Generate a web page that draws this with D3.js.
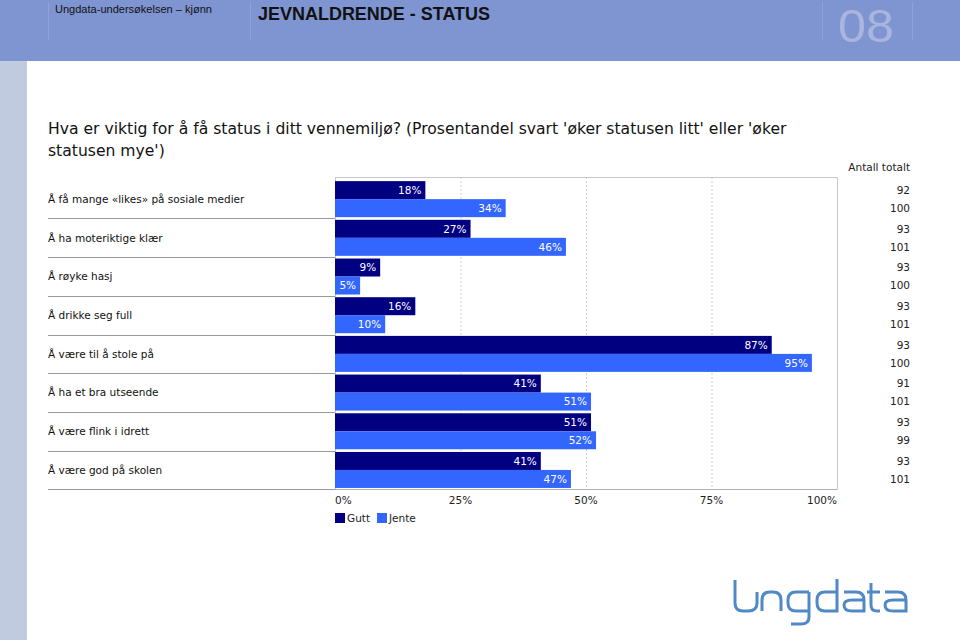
<!DOCTYPE html>
<html><head><meta charset="utf-8">
<script src="https://cdn.jsdelivr.net/npm/d3@7"></script>
<style>
html,body{margin:0;padding:0;background:#fff;}
svg{display:block;}
</style></head>
<body>
<svg id="c" width="960" height="640"></svg>
<script>
const categories = ["Å få mange «likes» på sosiale medier","Å ha moteriktige klær","Å røyke hasj","Å drikke seg full","Å være til å stole på","Å ha et bra utseende","Å være flink i idrett","Å være god på skolen"];
const gutt = [18,27,9,16,87,41,51,41];
const jente = [34,46,5,10,95,51,52,47];
const nGutt = [92,93,93,93,93,91,93,93];
const nJente = [100,101,100,101,100,101,99,101];
const seriesNames = ["Gutt","Jente"];
const ticks = [0,25,50,75,100];

const colors = {Gutt:"#000080", Jente:"#3366ff"};
const svg = d3.select("#c");
const FONT = "DejaVu Sans, Verdana, sans-serif";

// header
svg.append("rect").attr("x",0).attr("y",0).attr("width",960).attr("height",61).attr("fill","#7f95d1");
svg.append("rect").attr("x",0).attr("y",61).attr("width",27).attr("height",579).attr("fill","#c1cbe0");
[48,250,822,912].forEach(x=>svg.append("line").attr("x1",x+0.5).attr("x2",x+0.5).attr("y1",2).attr("y2",40).attr("stroke","#8ea2d8").attr("stroke-width",1));
svg.append("text").attr("x",55).attr("y",13).attr("font-family","Liberation Sans, Arial, sans-serif").attr("font-size",11.5)
  .attr("textLength",157).attr("lengthAdjust","spacingAndGlyphs").attr("fill","#111").text("Ungdata-undersøkelsen – kjønn");
svg.append("text").attr("x",258).attr("y",20).attr("font-family","Liberation Sans, Arial, sans-serif").attr("font-size",18).attr("font-weight","bold")
  .attr("textLength",232).attr("lengthAdjust","spacingAndGlyphs").attr("fill","#111").text("JEVNALDRENDE - STATUS");
svg.append("text").attr("x",838).attr("y",42).attr("font-family","Liberation Sans, Arial, sans-serif").attr("font-size",46)
  .attr("textLength",56).attr("lengthAdjust","spacingAndGlyphs").attr("fill","#a9b5dd").text("08");

// title
const title = svg.append("text").attr("font-family",FONT).attr("font-size",15.6).attr("fill","#111");
title.append("tspan").attr("x",48).attr("y",134).text("Hva er viktig for å få status i ditt vennemiljø? (Prosentandel svart 'øker statusen litt' eller 'øker");
title.append("tspan").attr("x",48).attr("y",156).text("statusen mye')");

// chart
const x = d3.scaleLinear().domain([0,100]).range([335,837]);
const y = d3.scaleBand().domain(categories).range([179.8,489.3]).paddingInner(0).paddingOuter(0);
const sub = d3.scaleBand().domain(seriesNames).range([0,y.bandwidth()]).paddingOuter(0.075).paddingInner(0);

const g = svg.append("g");
// gridlines
g.selectAll("line.grid").data([25,50,75]).join("line").attr("class","grid")
  .attr("x1",d=>x(d)+0.5).attr("x2",d=>x(d)+0.5).attr("y1",177).attr("y2",489)
  .attr("stroke","#cfcfcf").attr("stroke-dasharray","2,2");
// frame
g.append("line").attr("x1",335).attr("x2",837.5).attr("y1",177.5).attr("y2",177.5).attr("stroke","#c8c8c8");
g.append("line").attr("x1",837.5).attr("x2",837.5).attr("y1",177).attr("y2",489).attr("stroke","#c8c8c8");
g.append("line").attr("x1",335.5).attr("x2",335.5).attr("y1",177).attr("y2",489).attr("stroke","#c8c8c8");
// row separators
g.selectAll("line.sep").data(categories).join("line").attr("class","sep")
  .attr("x1",48).attr("x2",335).attr("y1",d=>Math.round(y(d)+y.bandwidth())+0.5).attr("y2",d=>Math.round(y(d)+y.bandwidth())+0.5)
  .attr("stroke","#999");
g.append("line").attr("x1",335).attr("x2",837.5).attr("y1",489.5).attr("y2",489.5).attr("stroke","#b0b0b0");

// labels
g.selectAll("text.cat").data(categories).join("text").attr("class","cat")
  .attr("x",48).attr("y",d=>y(d)+y.bandwidth()/2).attr("dy","0.35em")
  .attr("font-family",FONT).attr("font-size",10.5).attr("fill","#111").text(d=>d);

// bars
const rows = categories.map((c,i)=>({c, vals:[{s:"Gutt",v:gutt[i],n:nGutt[i]},{s:"Jente",v:jente[i],n:nJente[i]}]}));
const rg = g.selectAll("g.row").data(rows).join("g").attr("class","row").attr("transform",d=>`translate(0,${y(d.c)})`);
rg.selectAll("rect").data(d=>d.vals).join("rect")
  .attr("x",x(0)).attr("y",d=>sub(d.s)).attr("width",d=>x(d.v)-x(0)).attr("height",sub.bandwidth())
  .attr("fill",d=>colors[d.s]);
rg.selectAll("text.val").data(d=>d.vals).join("text").attr("class","val")
  .attr("x",d=>x(d.v)-4).attr("y",d=>sub(d.s)+sub.bandwidth()/2).attr("dy","0.36em")
  .attr("text-anchor","end").attr("font-family",FONT).attr("font-size",10.5).attr("fill","#fff").text(d=>d.v+"%");
rg.selectAll("text.n").data(d=>d.vals).join("text").attr("class","n")
  .attr("x",910).attr("y",d=>sub(d.s)+sub.bandwidth()/2).attr("dy","0.36em")
  .attr("text-anchor","end").attr("font-family",FONT).attr("font-size",10.5).attr("fill","#222").text(d=>d.n);
svg.append("text").attr("x",910).attr("y",167).attr("dy","0.35em").attr("text-anchor","end")
  .attr("font-family",FONT).attr("font-size",10.5).attr("fill","#222").text("Antall totalt");

// axis ticks
g.selectAll("text.tick").data(ticks).join("text").attr("class","tick")
  .attr("x",d=>x(d)).attr("y",500).attr("dy","0.35em")
  .attr("text-anchor",(d,i)=>i===0?"start":(i===ticks.length-1?"end":"middle"))
  .attr("font-family",FONT).attr("font-size",10.5).attr("fill","#222").text(d=>d+"%");

// legend
const lg = svg.append("g").attr("transform","translate(335,513)");
const items = lg.selectAll("g").data(seriesNames).join("g").attr("transform",(d,i)=>`translate(${i*42},0)`);
items.append("rect").attr("width",10).attr("height",10).attr("fill",d=>colors[d]);
items.append("text").attr("x",12).attr("y",5).attr("dy","0.35em").attr("font-family",FONT).attr("font-size",10.5).attr("fill","#222").text(d=>d);

// logo
const logo = svg.append("g").attr("fill","none").attr("stroke","#5089c6").attr("stroke-width",3);
["M735,580 V603 Q735,611 743,611 H748 Q757,611 757,603 V592",
 "M762,611 V600 Q762,592 770,592 H773 Q781,592 781,600 V611",
 "M809,592 H796 Q788,592 788,600 V603 Q788,611 796,611 H809",
 "M809,592 V617 Q809,624 801,624 H791",
 "M837,579 V611 H825 Q817,611 817,603 V600 Q817,592 825,592 H837",
 "M844,592 H856 Q864,592 864,600 V611 H852 Q844,611 844,605 Q844,600 852,600 H864",
 "M871,583 V605 Q871,611 877,611 H880","M867,592 H880",
 "M885,592 H898 Q906,592 906,600 V611 H893 Q885,611 885,605 Q885,600 893,600 H906"
].forEach(p=>logo.append("path").attr("d",p));
</script>
</body></html>
